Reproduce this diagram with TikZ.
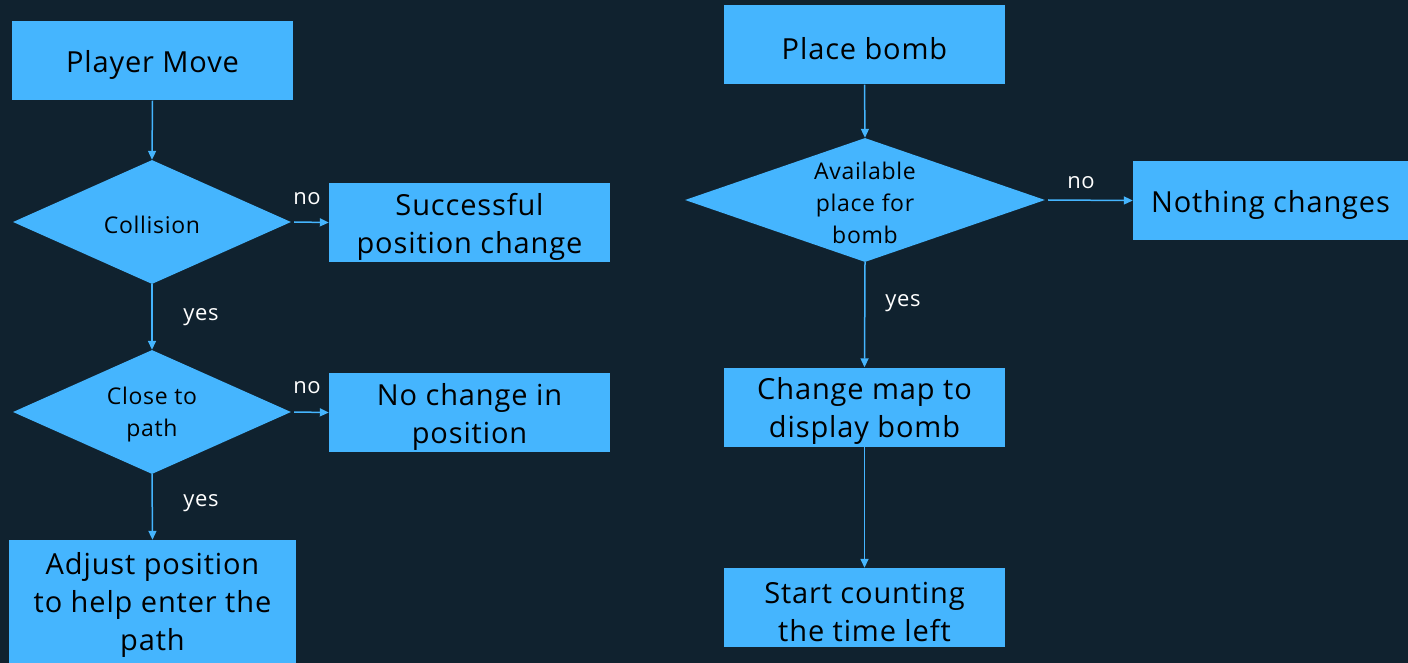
\documentclass[tikz,border=0pt]{standalone}
\usepackage{fontspec}
\setmainfont[LetterSpace=3]{Open Sans}
\usetikzlibrary{shapes.geometric,arrows.meta}
\definecolor{bgdark}{HTML}{10222F}
\definecolor{skyfill}{HTML}{45B5FE}
\tikzset{
  x=1pt, y=-1pt,
  stepbox/.style={rectangle, fill=skyfill, draw=none, inner sep=0pt,
    minimum width=281pt, minimum height=79pt},
  boxtext/.style={align=center, font=\fontsize{29}{38}\selectfont, text=black,
    inner sep=0pt, yshift=-4pt},
  decision/.style={diamond, fill=skyfill, draw=none, inner sep=0pt,
    minimum width=278pt, minimum height=124pt},
  dectext/.style={align=center, font=\fontsize{23}{32}\selectfont, text=black,
    inner sep=0pt, yshift=-3pt},
  flow/.style={draw=skyfill, line width=1.5pt, -{Triangle[length=9pt,width=8pt]}},
  tag/.style={text=white, font=\fontsize{22}{26}\selectfont}
}
\begin{document}
\begin{tikzpicture}
  \fill[bgdark] (0,0) rectangle (1408,663);
  \useasboundingbox (0,0) rectangle (1408,663);

  % left column: movement logic
  \node[stepbox, label={[boxtext]center:Player Move}] (move) at (152.5,61) {};
  \node[decision, label={[dectext]center:Collision}] (coll) at (152,222) {};
  \node[stepbox, label={[boxtext]center:Successful\\position change}] (succ) at (469.5,222.5) {};
  \node[decision, label={[dectext]center:Close to\\path}] (close) at (152,412) {};
  \node[stepbox, label={[boxtext]center:No change in\\position}] (nochg) at (469.5,412.5) {};
  \node[stepbox, minimum width=287pt, minimum height=125pt,
    label={[boxtext, yshift=2pt]center:Adjust position\\to help enter the\\path}] (adjust) at (152.5,602.5) {};

  % right column: bomb logic
  \node[stepbox, label={[boxtext]center:Place bomb}] (bomb) at (864.5,45) {};
  \node[decision, minimum width=360pt, label={[dectext]center:Available\\place for\\bomb}] (avail) at (865,200) {};
  \node[stepbox, minimum width=275pt, label={[boxtext]center:Nothing changes}] (nothing) at (1270.5,200.5) {};
  \node[stepbox, label={[boxtext]center:Change map to\\display bomb}] (map) at (864.5,407) {};
  \node[stepbox, label={[boxtext]center:Start counting\\the time left}] (count) at (864.5,607.5) {};

  % connectors
  \draw[flow] (move.south) -- (coll.north);
  \draw[flow] ([xshift=3pt]coll.east) -- (succ.west);
  \draw[flow] (coll.south) -- (close.north);
  \draw[flow] ([xshift=3pt]close.east) -- (nochg.west);
  \draw[flow] (close.south) -- (adjust.north);
  \draw[flow] (bomb.south) -- (avail.north);
  \draw[flow] ([xshift=3pt]avail.east) -- (nothing.west);
  \draw[flow] (avail.south) -- (map.north);
  \draw[flow] (map.south) -- (count.north);

  % branch labels
  \node[tag] (no1) at (307,199) {no};
  \node[tag] (yes1) at (201,317) {yes};
  \node[tag] (no2) at (307,388) {no};
  \node[tag] (yes2) at (201,503) {yes};
  \node[tag] (no3) at (1081,183) {no};
  \node[tag] (yes3) at (903,303) {yes};
\end{tikzpicture}
\end{document}
